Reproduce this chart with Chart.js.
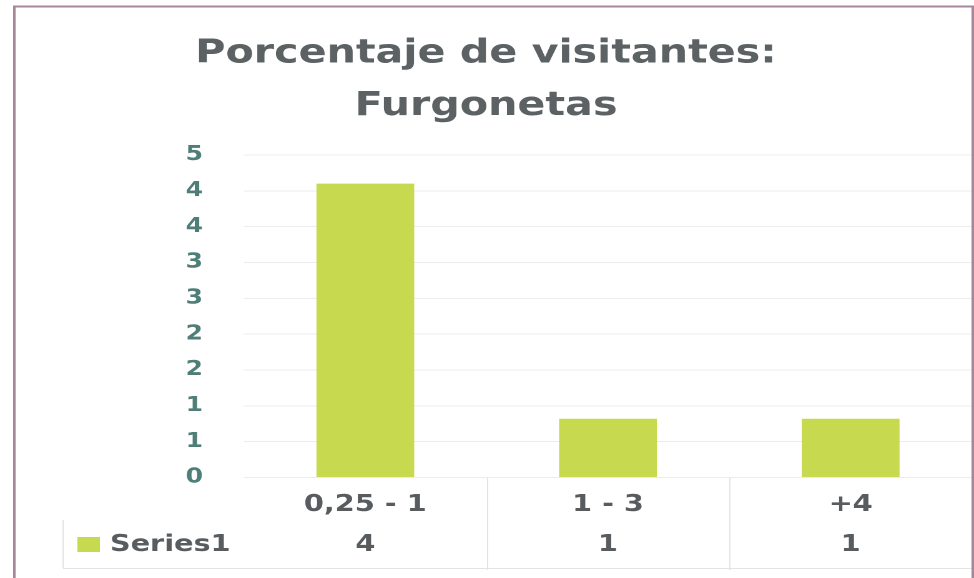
<!DOCTYPE html>
<html>
<head>
<meta charset="utf-8">
<script src="https://cdn.jsdelivr.net/npm/chart.js@4"></script>
<style>
  html, body { margin: 0; padding: 0; background: #fff; overflow: hidden; }
  /* the source picture is a wide scan, so the whole chart is stretched sideways */
  #wrap { width: 780px; height: 578px; transform: scaleX(1.2487); transform-origin: 0 0; }
</style>
</head>
<body>
<div id="wrap"><canvas id="grafico"></canvas></div>
<script>
const categorias = ["0,25 - 1", "1 - 3", "+4"];
const valores = [4.1, 0.82, 0.82];
const nomeSerie = "Series1";
const rotulosY = ["0", "1", "1", "2", "2", "3", "3", "4", "4", "5"];
const tituloLinhas = ["Porcentaje de visitantes:", "Furgonetas"];

const FONTE = "'DejaVu Sans'";
const VERDE = "#c6d94f";

// desenha a tabela de dados embaixo do eixo X e a moldura
const tabelaPlugin = {
  id: "tabela",
  afterDraw(chart) {
    const { ctx, scales: { x }, chartArea } = chart;
    const passo = x.getPixelForValue(1) - x.getPixelForValue(0);
    const yLinha = 545;

    ctx.save();
    ctx.strokeStyle = "#e3e3e3";
    ctx.lineWidth = 1;
    ctx.beginPath();
    for (let i = 1; i < categorias.length; i++) {
      const xs = Math.round(x.getPixelForValue(i) - passo / 2) + 0.5;
      ctx.moveTo(xs, chartArea.bottom);
      ctx.lineTo(xs, 570);
    }
    ctx.moveTo(50.5, 520);
    ctx.lineTo(50.5, 568);
    ctx.moveTo(50.5, 568.5);
    ctx.lineTo(chartArea.right, 568.5);
    ctx.stroke();

    // legenda da série
    ctx.fillStyle = VERDE;
    ctx.fillRect(62, 537, 18, 15);
    ctx.font = "bold 23px " + FONTE;
    ctx.fillStyle = "#585c5e";
    ctx.textBaseline = "middle";
    ctx.textAlign = "left";
    ctx.fillText(nomeSerie, 88, yLinha);

    ctx.textAlign = "center";
    valores.forEach((v, i) => {
      ctx.fillText(String(Math.round(v)), x.getPixelForValue(i), yLinha);
    });

    // moldura
    ctx.strokeStyle = "#a8869a";
    ctx.lineWidth = 2;
    ctx.beginPath();
    ctx.moveTo(11.5, 578);
    ctx.lineTo(11.5, 6.5);
    ctx.lineTo(779, 6.5);
    ctx.lineTo(779, 578);
    ctx.stroke();
    ctx.restore();
  }
};

new Chart(document.getElementById("grafico"), {
  type: "bar",
  data: {
    labels: categorias,
    datasets: [{
      label: nomeSerie,
      data: valores,
      backgroundColor: VERDE,
      barPercentage: 0.403,
      categoryPercentage: 1
    }]
  },
  options: {
    responsive: true,
    maintainAspectRatio: false,
    devicePixelRatio: 2,
    animation: false,
    layout: { padding: { left: 0, right: 1.6, top: 0, bottom: 0 } },
    plugins: {
      legend: { display: false },
      tooltip: { enabled: false },
      title: {
        display: true,
        text: tituloLinhas,
        color: "#5c6264",
        font: { family: FONTE, size: 33, weight: "bold", lineHeight: 1.58 },
        padding: { top: 28, bottom: 22.7 }
      }
    },
    scales: {
      x: {
        grid: { display: false },
        border: { display: false },
        ticks: {
          color: "#585c5e",
          font: { family: FONTE, size: 23, weight: "bold" },
          padding: 5.5,
          maxRotation: 0
        },
        afterFit: s => { s.height = 100.5; }
      },
      y: {
        min: 0,
        max: 4.5,
        border: { display: false },
        grid: { color: "#ececec", drawTicks: false },
        ticks: {
          stepSize: 0.5,
          color: "#4f7d78",
          font: { family: FONTE, size: 20, weight: "bold" },
          padding: 32.8,
          callback: (v, i) => rotulosY[i]
        },
        afterFit: s => { s.width = 195.4; }
      }
    }
  },
  plugins: [tabelaPlugin]
});
</script>
</body>
</html>
